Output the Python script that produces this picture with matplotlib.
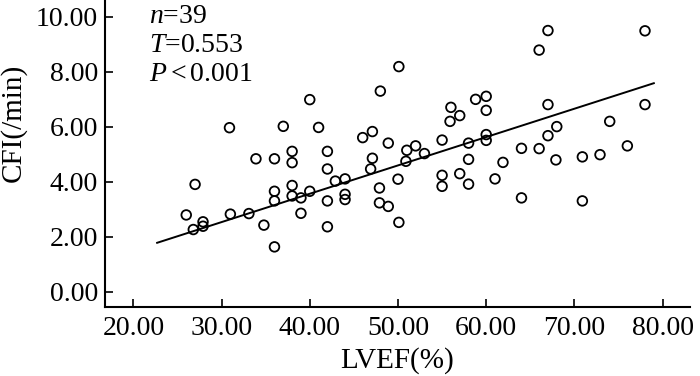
import matplotlib.pyplot as plt

plt.rcParams['font.family'] = ['Liberation Serif', 'DejaVu Serif']
plt.rcParams['mathtext.fontset'] = 'custom'
plt.rcParams['mathtext.it'] = 'Liberation Serif:italic'
plt.rcParams['mathtext.rm'] = 'Liberation Serif'

# LVEF (%) and CFI (/min)
lvef = [50.1, 48.0, 40.0, 30.9, 37.0, 41.0, 46.0, 47.1, 48.9, 51.0,
        52.0, 38.0, 42.0, 33.9, 36.0, 47.1, 38.0, 42.0, 46.9, 50.9,
        27.0, 26.0, 26.8, 27.9, 27.9, 31.0, 33.1, 34.8, 36.0, 36.0,
        36.0, 38.0, 38.0, 39.0, 39.0, 40.0, 42.0, 42.0, 42.9, 44.0,
        44.0, 44.0, 47.9, 47.9, 48.9, 50.0, 50.1, 67.0, 78.0, 66.0,
        60.0, 58.8, 56.0, 60.0, 57.0, 55.9, 67.0, 78.0, 74.0, 68.0,
        67.0, 55.0, 58.0, 60.0, 60.0, 64.0, 66.0, 76.0, 53.0, 58.0,
        61.9, 67.9, 70.9, 72.9, 55.0, 57.0, 55.0, 58.0, 61.0, 64.0,
        70.9]
cfi = [8.18, 7.29, 6.98, 5.96, 6.01, 5.97, 5.60, 5.82, 5.40, 5.14,
       5.30, 5.10, 5.10, 4.83, 4.83, 4.85, 4.69, 4.46, 4.46, 4.74,
       3.90, 2.79, 2.26, 2.54, 2.38, 2.82, 2.84, 2.42, 1.63, 3.65,
       3.30, 3.86, 3.48, 3.41, 2.85, 3.65, 3.30, 2.36, 4.02, 4.10,
       3.54, 3.35, 3.77, 3.23, 3.10, 4.09, 2.52, 9.49, 9.48, 8.78,
       7.10, 6.99, 6.70, 6.59, 6.40, 6.19, 6.80, 6.80, 6.19, 6.00,
       5.67, 5.51, 5.40, 5.71, 5.50, 5.21, 5.20, 5.30, 5.02, 4.81,
       4.70, 4.79, 4.90, 4.98, 4.23, 4.29, 3.83, 3.91, 4.10, 3.41,
       3.30]

# fitted line
fit_x = [22.7, 79.0]
fit_slope = 0.103
fit_intercept = -0.56

x_ticks = [20, 30, 40, 50, 60, 70, 80]
y_ticks = [0, 2, 4, 6, 8, 10]

fig = plt.figure(figsize=(7, 3.76), dpi=100)
ax = fig.add_axes([0.15, 0.1843, 0.8357, 0.8157])

ax.scatter(lvef, cfi, s=48, facecolors='none', edgecolors='black', linewidths=1.3, zorder=3)
ax.plot(fit_x, [fit_intercept + fit_slope * v for v in fit_x], color='black', linewidth=1.4)

ax.set_xlim(16.79, 83.1)
ax.set_ylim(-0.544, 10.6)
ax.set_xticks(x_ticks)
ax.set_yticks(y_ticks)
ax.set_xticklabels(['%.2f' % v for v in x_ticks])
ax.set_yticklabels(['%.2f' % v for v in y_ticks])
ax.tick_params(direction='in', length=6, width=1.2, labelsize=20)
ax.tick_params(axis='x', pad=7)
ax.tick_params(axis='y', pad=5)

for side in ['top', 'right']:
    ax.spines[side].set_visible(False)
for side in ['left', 'bottom']:
    ax.spines[side].set_linewidth(1.5)

ax.set_xlabel('LVEF(%)', fontsize=21, labelpad=4)
ax.set_ylabel('CFI(/min)', fontsize=21)
ax.yaxis.set_label_coords(-0.133, 0.599)

ax.text(0.075, 0.924, '$n$=39', transform=ax.transAxes, fontsize=20, va='baseline')
ax.text(0.075, 0.831, '$T$=0.553', transform=ax.transAxes, fontsize=20, va='baseline')
ax.text(0.075, 0.736, '$P<$0.001', transform=ax.transAxes, fontsize=20, va='baseline')

fig.savefig('out.png', dpi=100)
